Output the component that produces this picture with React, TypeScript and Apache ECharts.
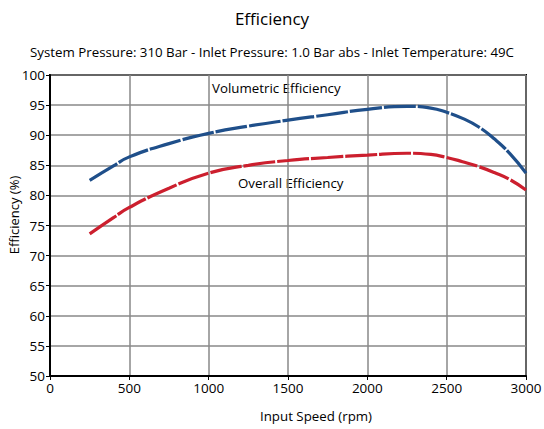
import React, { useEffect, useRef } from "react";
import * as echarts from "echarts";

const speedRpm = [250, 400, 500, 750, 1000, 1250, 1500, 1750, 2000, 2250, 2400, 2500, 2600, 2700, 2800, 2900, 3000];
const volumetricEff = [82.5, 84.9, 86.4, 88.6, 90.3, 91.5, 92.5, 93.4, 94.3, 94.8, 94.5, 93.8, 92.8, 91.4, 89.4, 86.9, 83.7];
const overallEff = [73.6, 76.3, 78.0, 81.2, 83.7, 85.0, 85.8, 86.3, 86.7, 87.0, 86.8, 86.3, 85.6, 84.8, 83.8, 82.6, 80.9];

const FONT = "Open Sans";

export default function App() {
  const ref = useRef<HTMLDivElement>(null);
  useEffect(() => {
    document.body.style.margin = "0";
    const chart = echarts.init(ref.current!, null, { renderer: "svg" });
    chart.setOption({
      animation: false,
      backgroundColor: "#fff",
      textStyle: { fontFamily: FONT },
      title: [
        { text: "Efficiency", left: "center", top: 5, textStyle: { fontFamily: FONT, fontSize: 17, fontWeight: "normal", color: "#000" } },
        { text: "System Pressure: 310 Bar - Inlet Pressure: 1.0 Bar abs - Inlet Temperature: 49C", left: "center", top: 40, textStyle: { fontFamily: FONT, fontSize: 13.3, fontWeight: "normal", color: "#000" } },
      ],
      grid: { left: 50, right: 18, top: 75, bottom: 53, show: true, borderColor: "#000", borderWidth: 2, backgroundColor: "transparent", outerBoundsMode: "none", containLabel: false },
      xAxis: {
        type: "value", min: 0, max: 3000, interval: 500,
        axisLine: { lineStyle: { color: "#000", width: 2 } },
        axisTick: { show: true, length: 4, lineStyle: { color: "#000" } },
        axisLabel: { fontFamily: FONT, fontSize: 13.5, color: "#000", margin: 5, formatter: (v: number) => String(v) },
        splitLine: { show: true, lineStyle: { color: "#888", width: 1.5 } },
      },
      yAxis: {
        type: "value", min: 50, max: 100, interval: 5,
        axisLine: { lineStyle: { color: "#000", width: 2 } },
        axisTick: { show: true, length: 4, lineStyle: { color: "#000" } },
        axisLabel: { fontFamily: FONT, fontSize: 13.5, color: "#000", margin: 5 },
        splitLine: { show: true, lineStyle: { color: "#888", width: 1.5 } },
      },
      series: [
        {
          name: "Volumetric Efficiency", type: "line", smooth: true, showSymbol: false,
          data: speedRpm.map((s, i) => [s, volumetricEff[i]]),
          lineStyle: { color: "#1f4f8a", width: 3.2, type: [32, 2] },
        },
        {
          name: "Overall Efficiency", type: "line", smooth: true, showSymbol: false,
          data: speedRpm.map((s, i) => [s, overallEff[i]]),
          lineStyle: { color: "#cc1f2e", width: 3.2, type: [32, 2] },
        },
      ],
      graphic: [
        { type: "text", left: 212, top: 81, style: { text: "Volumetric Efficiency", fontFamily: FONT, fontSize: 13.3, fill: "#000" } },
        { type: "text", left: 238, top: 176, style: { text: "Overall Efficiency", fontFamily: FONT, fontSize: 13.3, fill: "#000" } },
        { type: "text", x: 14, y: 215, rotation: Math.PI / 2, style: { text: "Efficiency (%)", fontFamily: FONT, fontSize: 13, fill: "#000", align: "center", verticalAlign: "middle" } },
        { type: "text", x: 316, y: 416, style: { text: "Input Speed (rpm)", fontFamily: FONT, fontSize: 13.3, fill: "#000", align: "center", verticalAlign: "middle" } },
      ],
    });
    return () => chart.dispose();
  }, []);
  return <div ref={ref} style={{ width: 544, height: 429 }} />;
}
